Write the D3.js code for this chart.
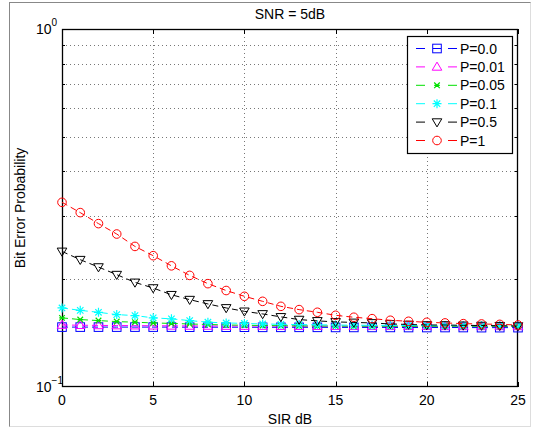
<!DOCTYPE html>
<html><head><meta charset="utf-8">
<script src="https://cdn.jsdelivr.net/npm/d3@7"></script>
<style>body{margin:0;background:#fff}svg{display:block;font-family:"Liberation Sans",Arial,sans-serif}</style>
</head><body><svg id="c" width="534" height="429"></svg>
<script>
const sir = [0,1,2,3,4,5,6,7,8,9,10,11,12,13,14,15,16,17,18,19,20,21,22,23,24,25];
const seriesNames = ["P=0.0","P=0.01","P=0.05","P=0.1","P=0.5","P=1"];
const pZero = [0.1470,0.1470,0.1470,0.1470,0.1470,0.1470,0.1470,0.1469,0.1469,0.1469,0.1469,0.1468,0.1468,0.1468,0.1468,0.1467,0.1467,0.1467,0.1467,0.1466,0.1466,0.1466,0.1466,0.1465,0.1465,0.1465];
const pP01 = [0.1490,0.1488,0.1486,0.1485,0.1484,0.1483,0.1482,0.1481,0.1481,0.1480,0.1480,0.1480,0.1479,0.1479,0.1479,0.1479,0.1478,0.1478,0.1478,0.1478,0.1478,0.1477,0.1477,0.1477,0.1477,0.1477];
const pP05 = [0.1560,0.1543,0.1533,0.1523,0.1517,0.1510,0.1505,0.1500,0.1495,0.1490,0.1488,0.1485,0.1483,0.1481,0.1480,0.1480,0.1479,0.1479,0.1479,0.1478,0.1478,0.1478,0.1478,0.1478,0.1478,0.1478];
const pP1  = [0.1663,0.1637,0.1617,0.1593,0.1583,0.1560,0.1550,0.1533,0.1517,0.1510,0.1505,0.1500,0.1497,0.1494,0.1492,0.1490,0.1488,0.1487,0.1486,0.1485,0.1485,0.1484,0.1484,0.1484,0.1484,0.1484];
const pP5  = [0.2392,0.2268,0.2163,0.2060,0.1960,0.1890,0.1810,0.1754,0.1706,0.1663,0.1627,0.1600,0.1570,0.1543,0.1530,0.1520,0.1515,0.1510,0.1500,0.1495,0.1490,0.1490,0.1487,0.1485,0.1483,0.1480];
const pOne = [0.3280,0.3070,0.2860,0.2675,0.2470,0.2327,0.2180,0.2050,0.1944,0.1860,0.1792,0.1735,0.1680,0.1645,0.1617,0.1586,0.1566,0.1552,0.1536,0.1526,0.1516,0.1510,0.1503,0.1500,0.1496,0.1490];
const xTicks = [0,5,10,15,20,25];
const yMinor = [0.2,0.3,0.4,0.5,0.6,0.7,0.8,0.9];
const yMajor = [{v:1,exp:"0"},{v:0.1,exp:"\u22121"}];

const colors = ["#0000ff","#ff00ff","#00e000","#00ffff","#000000","#ff0000"];
const markers = ["square","triUp","x","star","triDown","circle"];
const data = [pZero,pP01,pP05,pP1,pP5,pOne];

const svg = d3.select("#c");
const L=62, R=518, T=29, B=387;
const x = d3.scaleLinear().domain([0,25]).range([L,R]);
const y = d3.scaleLog().domain([0.1,1]).range([B,T]);

// figure border
svg.append("line").attr("x1",9.5).attr("x2",9.5).attr("y1",2).attr("y2",427).attr("stroke","#888");
svg.append("line").attr("x1",9.5).attr("x2",531).attr("y1",2.5).attr("y2",2.5).attr("stroke","#888");
svg.append("line").attr("x1",9.5).attr("x2",531).attr("y1",426.5).attr("y2",426.5).attr("stroke","#ddd");
svg.append("line").attr("x1",530.5).attr("x2",530.5).attr("y1",2.5).attr("y2",427).attr("stroke","#ddd");

// grid
const g = svg.append("g");
g.selectAll(".gx").data(xTicks.slice(1,-1)).join("line")
  .attr("x1",d=>Math.round(x(d))+0.5).attr("x2",d=>Math.round(x(d))+0.5).attr("y1",T).attr("y2",B)
  .attr("stroke","#777").attr("stroke-dasharray","1,3");
g.selectAll(".gy").data(yMinor).join("line")
  .attr("y1",d=>Math.round(y(d))+0.5).attr("y2",d=>Math.round(y(d))+0.5).attr("x1",L).attr("x2",R)
  .attr("stroke","#777").attr("stroke-dasharray","1,3");

// ticks
const tk = svg.append("g").attr("stroke","#000");
xTicks.forEach(d=>{
  const xx=Math.round(x(d))+0.5;
  tk.append("line").attr("x1",xx).attr("x2",xx).attr("y1",B).attr("y2",B-5);
  tk.append("line").attr("x1",xx).attr("x2",xx).attr("y1",T).attr("y2",T+5);
});
yMinor.forEach(d=>{
  const yy=Math.round(y(d))+0.5;
  tk.append("line").attr("x1",L).attr("x2",L+3).attr("y1",yy).attr("y2",yy);
  tk.append("line").attr("x1",R).attr("x2",R-3).attr("y1",yy).attr("y2",yy);
});

// axes box
svg.append("rect").attr("x",L+0.5).attr("y",T+0.5).attr("width",R-L-1).attr("height",B-T-1)
  .attr("fill","none").attr("stroke","#000").attr("stroke-width",1.3);

// tick labels
svg.selectAll(".xl").data(xTicks).join("text")
  .attr("x",d=>x(d)).attr("y",B+18).attr("text-anchor","middle").attr("font-size",14).text(d=>d);
yMajor.forEach(d=>{
  const t = svg.append("text").attr("x",36).attr("y",y(d.v)+5).attr("font-size",14);
  t.append("tspan").text("10");
  t.append("tspan").attr("font-size",10).attr("dy",-8).text(d.exp);
});

// labels
svg.append("text").attr("x",(L+R)/2).attr("y",19).attr("text-anchor","middle").attr("font-size",14).text("SNR = 5dB");
svg.append("text").attr("x",(L+R)/2).attr("y",424).attr("text-anchor","middle").attr("font-size",14).text("SIR dB");
svg.append("text").attr("transform",`translate(25,${(T+B)/2}) rotate(-90)`).attr("text-anchor","middle").attr("font-size",14).text("Bit Error Probability");

function drawMarker(sel, type, cx, cy, col){
  const s = 4.3;
  if(type==="square") sel.append("rect").attr("x",cx-s).attr("y",cy-s).attr("width",2*s).attr("height",2*s).attr("fill","none").attr("stroke",col);
  else if(type==="circle") sel.append("circle").attr("cx",cx).attr("cy",cy).attr("r",s).attr("fill","none").attr("stroke",col);
  else if(type==="triUp") sel.append("path").attr("d",`M${cx},${cy-s-0.5}L${cx+s+0.5},${cy+s-1}L${cx-s-0.5},${cy+s-1}Z`).attr("fill","none").attr("stroke",col);
  else if(type==="triDown") sel.append("path").attr("d",`M${cx},${cy+s+0.5}L${cx+s+0.5},${cy-s+1}L${cx-s-0.5},${cy-s+1}Z`).attr("fill","none").attr("stroke",col);
  else if(type==="x"){ const a=2.8; sel.append("path").attr("d",`M${cx-a},${cy-a}L${cx+a},${cy+a}M${cx-a},${cy+a}L${cx+a},${cy-a}M${cx-a},${cy}L${cx+a},${cy}`).attr("stroke",col).attr("stroke-width",1.2); }
  else if(type==="star"){ const a=4.5,b=3.2; sel.append("path").attr("d",`M${cx-a},${cy}L${cx+a},${cy}M${cx},${cy-a}L${cx},${cy+a}M${cx-b},${cy-b}L${cx+b},${cy+b}M${cx-b},${cy+b}L${cx+b},${cy-b}`).attr("stroke",col).attr("stroke-width",1.2); }
}

// series
const line = d3.line().x((d,i)=>x(sir[i])).y(d=>y(d));
data.forEach((vals,k)=>{
  const gs = svg.append("g");
  gs.append("path").attr("d",line(vals)).attr("fill","none").attr("stroke",colors[k]).attr("stroke-dasharray","6,4");
  vals.forEach((v,i)=>drawMarker(gs, markers[k], x(sir[i]), y(v), colors[k]));
});

// legend
const lg = svg.append("g");
const lx=407, ly=36, lw=105, lh=117;
lg.append("rect").attr("x",lx+0.5).attr("y",ly+0.5).attr("width",lw).attr("height",lh).attr("fill","#fff").attr("stroke","#000").attr("stroke-width",1.2);
seriesNames.forEach((nm,k)=>{
  const yy = ly + 12.5 + k*18.4;
  lg.append("line").attr("x1",lx+9).attr("x2",lx+18).attr("y1",yy).attr("y2",yy).attr("stroke",colors[k]);
  lg.append("line").attr("x1",lx+41).attr("x2",lx+50).attr("y1",yy).attr("y2",yy).attr("stroke",colors[k]);
  if(markers[k]==="square") lg.append("line").attr("x1",lx+26).attr("x2",lx+34).attr("y1",yy).attr("y2",yy).attr("stroke",colors[k]);
  drawMarker(lg, markers[k], lx+30, yy, colors[k]);
  lg.append("text").attr("x",lx+53).attr("y",yy+5).attr("font-size",14).text(nm);
});
</script></body></html>
